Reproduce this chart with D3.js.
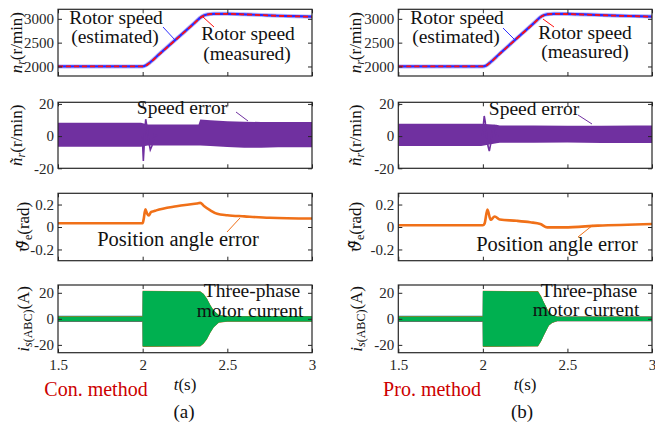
<!DOCTYPE html>
<html>
<head>
<meta charset="utf-8">
<script src="https://cdn.jsdelivr.net/npm/d3@7"></script>
<style>
  body { margin: 0; background: #fff; }
</style>
</head>
<body>
<svg id="chart" width="655" height="435"></svg>
<script>
// ticks
var timeTicks = [1.5, 2, 2.5, 3];
var speedTicks = [2000, 2500, 3000];
var errorTicks = [-20, 0, 20];
var angleTicks = [-0.2, 0, 0.2];
var currentTicks = [-20, 0, 20];

// rotor speed (r/min)
var speedTime = [1.5, 2.0, 2.02, 2.04, 2.1, 2.2, 2.3, 2.35, 2.38, 2.42, 2.5, 2.6, 2.7, 2.8, 2.9, 3.0];
var conSpeedEst = [2000, 2000, 2025, 2075, 2265, 2580, 2895, 3050, 3090, 3105, 3105, 3095, 3080, 3065, 3055, 3045];
var conSpeedMeas = [2000, 2000, 2020, 2070, 2260, 2575, 2890, 3045, 3088, 3103, 3103, 3093, 3078, 3063, 3053, 3043];
var proSpeedEst = [2000, 2000, 2020, 2075, 2270, 2590, 2905, 3060, 3095, 3105, 3102, 3092, 3078, 3066, 3057, 3048];
var proSpeedMeas = [2000, 2000, 2018, 2070, 2265, 2585, 2900, 3055, 3093, 3103, 3100, 3090, 3076, 3064, 3055, 3046];

// speed error band (envelope) + start-up transient
var conErrTime = [1.5, 1.99, 2.03, 2.1, 2.33, 2.34, 2.4, 2.5, 2.6, 2.7, 2.8, 2.9, 3.0];
var conErrUpper = [8.3, 8.3, 7.2, 7.2, 7.2, 10.3, 9.8, 9.2, 8.9, 8.8, 8.8, 8.8, 8.8];
var conErrLower = [-6.6, -6.6, -5.8, -5.8, -5.8, -5.8, -6.2, -6.8, -7.2, -7.2, -7.0, -7.0, -7.0];
var conSpikeTime = [1.995, 2.0, 2.004, 2.008, 2.013, 2.018, 2.025, 2.035, 2.045, 2.055, 2.07, 2.085];
var conSpike = [0, -6, -15.5, -8, 4, 10.5, 6, -3, -8.5, -6, 1, 0];

var proErrTime = [1.5, 1.99, 2.08, 2.1, 2.3, 2.5, 2.7, 2.9, 3.0];
var proErrUpper = [7.7, 7.7, 7.0, 6.6, 6.6, 6.4, 6.4, 6.6, 6.6];
var proErrLower = [-6.2, -6.2, -4.5, -4.1, -4.1, -4.0, -4.3, -4.3, -4.3];
var proSpikeTime = [1.998, 2.003, 2.008, 2.014, 2.022, 2.03, 2.038, 2.046, 2.055, 2.065, 2.08, 2.095];
var proSpike = [0, 7, 12.5, 9, 0, -6, -9.3, -5, 4, 6, 0, 0];

// position angle error (rad)
var conAngleTime = [1.5, 2.0, 2.006, 2.016, 2.026, 2.036, 2.05, 2.065, 2.08, 2.2, 2.32, 2.34, 2.36, 2.4, 2.44, 2.5, 2.6, 2.75, 3.0];
var conAngle = [0.033, 0.033, 0.07, 0.157, 0.12, 0.103, 0.135, 0.14, 0.148, 0.185, 0.21, 0.215, 0.19, 0.148, 0.118, 0.105, 0.095, 0.082, 0.075];
var proAngleTime = [1.5, 2.0, 2.01, 2.027, 2.046, 2.07, 2.1, 2.2, 2.28, 2.34, 2.38, 2.48, 2.68, 3.0];
var proAngle = [0.015, 0.015, 0.03, 0.155, 0.064, 0.094, 0.066, 0.055, 0.042, 0.027, -0.003, -0.003, 0.012, 0.027];

// three-phase current envelopes (A)
var conCurTime = [1.5, 1.999, 2.0, 2.34, 2.36, 2.38, 2.4, 2.42, 2.45, 2.5, 3.0];
var conCurA = [2.4, 2.4, 20.8, 20.3, 18.3, 14.8, 9.8, 5.8, 2.7, 2.1, 2.1];
var conCurB = [2.1, 2.1, 21.6, 21.2, 19.2, 15.6, 10.6, 6.5, 3.0, 2.2, 2.2];
var conCurC = [1.9, 1.9, 21.3, 21.0, 19.0, 15.4, 10.5, 6.4, 2.8, 2.0, 2.0];
var proCurTime = [1.5, 1.999, 2.0, 2.326, 2.345, 2.36, 2.375, 2.39, 2.41, 2.44, 2.5, 3.0];
var proCurA = [2.4, 2.4, 20.8, 20.5, 16.6, 12.6, 8.8, 5.0, 2.9, 1.9, 1.9, 1.9];
var proCurB = [2.1, 2.1, 21.6, 21.3, 17.3, 13.0, 9.2, 5.3, 3.1, 1.8, 1.8, 1.8];
var proCurC = [1.9, 1.9, 21.3, 21.0, 17.0, 12.8, 9.0, 5.1, 3.0, 1.7, 1.7, 1.7];

var serif = "Liberation Serif";
var svg = d3.select("#chart");
var axisColor = "#262626";
var rows = [[9.3, 76], [102.3, 168.3], [193.3, 260.7], [285, 352.7]];
var clipId = 0;

function zipPts(t, v) { return t.map(function (d, i) { return [d, v[i]]; }); }

function makePanel(x0, x1, row, yDomain, yTicks, yFmt, bottom) {
    var x = d3.scaleLinear().domain([1.5, 3]).range([x0, x1]);
    var y = d3.scaleLinear().domain(yDomain).range([row[1], row[0]]);
    var id = "clip" + (clipId++);
    svg.append("clipPath").attr("id", id).append("rect")
        .attr("x", x0).attr("y", row[0]).attr("width", x1 - x0).attr("height", row[1] - row[0]);
    var plot = svg.append("g").attr("clip-path", "url(#" + id + ")");
    var axes = svg.append("g");
    return { x: x, y: y, plot: plot, axes: axes, x0: x0, x1: x1, row: row, yTicks: yTicks, yFmt: yFmt, bottom: bottom };
}

function finishPanel(p) {
    var a = p.axes;
    var left = a.append("g").attr("transform", "translate(" + p.x0 + ",0)")
        .call(d3.axisLeft(p.y).tickValues(p.yTicks).tickFormat(p.yFmt).tickSize(-4).tickPadding(4));
    var right = a.append("g").attr("transform", "translate(" + p.x1 + ",0)")
        .call(d3.axisRight(p.y).tickValues(p.yTicks).tickFormat("").tickSize(-4));
    var bot = a.append("g").attr("transform", "translate(0," + p.row[1] + ")")
        .call(d3.axisBottom(p.x).tickValues(timeTicks)
            .tickFormat(p.bottom ? function (d) { return String(d); } : "")
            .tickSize(-4).tickPadding(7));
    var top = a.append("g").attr("transform", "translate(0," + p.row[0] + ")")
        .call(d3.axisTop(p.x).tickValues(timeTicks).tickFormat("").tickSize(-4));
    [left, right, bot, top].forEach(function (g) {
        g.select(".domain").remove();
        g.attr("color", axisColor).attr("font-size", 15).attr("font-family", serif);
        g.selectAll("text").style("font-family", serif).attr("font-size", 15);
        g.selectAll("line").attr("stroke-width", 1);
    });
    a.append("rect")
        .attr("x", p.x0).attr("y", p.row[0])
        .attr("width", p.x1 - p.x0).attr("height", p.row[1] - p.row[0])
        .attr("fill", "none").attr("stroke", axisColor).attr("stroke-width", 1.2);
}

// centred annotation text
function note(str, cx, y, size, color) {
    svg.append("text").attr("x", cx).attr("y", y)
        .attr("text-anchor", "middle")
        .style("font-family", serif)
        .attr("font-size", size || 19.5)
        .attr("fill", color || "#111")
        .text(str);
}

function leader(x1, y1, x2, y2, color) {
    svg.append("line").attr("x1", x1).attr("y1", y1).attr("x2", x2).attr("y2", y2)
        .attr("stroke", color).attr("stroke-width", 1);
}

function yLabel(parts, x, yc) {
    var t = svg.append("text")
        .attr("transform", "translate(" + x + "," + yc + ") rotate(-90)")
        .style("font-family", serif)
        .attr("text-anchor", "middle").attr("font-size", 17).attr("fill", "#111");
    parts.forEach(function (p) {
        var s = t.append("tspan").text(p.s);
        if (p.i) s.attr("font-style", "italic");
        if (p.f) s.style("font-family", p.f);
        if (p.sub) s.attr("font-size", 12).attr("baseline-shift", "-25%");
    });
}

var fmtInt = function (d) { return String(d); };
var fmtAngle = function (d) { return d === 0 ? "0" : String(d); };

var columns = [
    {
        x0: 58, x1: 312,
        est: conSpeedEst, meas: conSpeedMeas,
        errT: conErrTime, errU: conErrUpper, errL: conErrLower, spT: conSpikeTime, sp: conSpike,
        angT: conAngleTime, ang: conAngle,
        curT: conCurTime, curA: conCurA, curB: conCurB, curC: conCurC,
        labelX: [22, 22, 29, 29]
    },
    {
        x0: 398.3, x1: 652,
        est: proSpeedEst, meas: proSpeedMeas,
        errT: proErrTime, errU: proErrUpper, errL: proErrLower, spT: proSpikeTime, sp: proSpike,
        angT: proAngleTime, ang: proAngle,
        curT: proCurTime, curA: proCurA, curB: proCurB, curC: proCurC,
        labelX: [361, 361, 361, 362]
    }
];

columns.forEach(function (c) {
    // rotor speed
    var p1 = makePanel(c.x0, c.x1, rows[0], [1800, 3200], speedTicks, fmtInt, false);
    var line1 = d3.line().x(function (d) { return p1.x(d[0]); }).y(function (d) { return p1.y(d[1]); }).curve(d3.curveMonotoneX);
    p1.plot.append("path").attr("d", line1(zipPts(speedTime, c.est)))
        .attr("fill", "none").attr("stroke", "#8080ff").attr("stroke-width", 4).attr("opacity", 0.6);
    p1.plot.append("path").attr("d", line1(zipPts(speedTime, c.est)))
        .attr("fill", "none").attr("stroke", "#2a2aff").attr("stroke-width", 2.2);
    p1.plot.append("path").attr("d", line1(zipPts(speedTime, c.meas)))
        .attr("fill", "none").attr("stroke", "#ff1010").attr("stroke-width", 1.8).attr("stroke-dasharray", "5,3");
    finishPanel(p1);

    // speed error
    var p2 = makePanel(c.x0, c.x1, rows[1], [-20, 21], errorTicks, fmtInt, false);
    var band = d3.area().x(function (d) { return p2.x(d[0]); })
        .y0(function (d) { return p2.y(d[2]); }).y1(function (d) { return p2.y(d[1]); });
    p2.plot.append("path")
        .attr("d", band(c.errT.map(function (t, i) { return [t, c.errU[i], c.errL[i]]; })))
        .attr("fill", "#7030a0");
    var line2 = d3.line().x(function (d) { return p2.x(d[0]); }).y(function (d) { return p2.y(d[1]); });
    p2.plot.append("path").attr("d", line2(zipPts(c.spT, c.sp)))
        .attr("fill", "none").attr("stroke", "#7030a0").attr("stroke-width", 1.6);
    finishPanel(p2);

    // position angle error
    var p3 = makePanel(c.x0, c.x1, rows[2], [-0.3, 0.3], angleTicks, fmtAngle, false);
    var line3 = d3.line().x(function (d) { return p3.x(d[0]); }).y(function (d) { return p3.y(d[1]); }).curve(d3.curveMonotoneX);
    p3.plot.append("path").attr("d", line3(zipPts(c.angT, c.ang)))
        .attr("fill", "none").attr("stroke", "#f07018").attr("stroke-width", 2.6);
    finishPanel(p3);

    // three-phase current
    var p4 = makePanel(c.x0, c.x1, rows[3], [-26, 26], currentTicks, fmtInt, true);
    var env = d3.area().x(function (d) { return p4.x(d[0]); })
        .y0(function (d) { return p4.y(-d[1]); }).y1(function (d) { return p4.y(d[1]); });
    [[c.curA, "#0072bd"], [c.curB, "#e2601a"], [c.curC, "#00b050"]].forEach(function (s) {
        p4.plot.append("path").attr("d", env(zipPts(c.curT, s[0]))).attr("fill", s[1]);
    });
    finishPanel(p4);

    // axis labels
    var lx = c.labelX;
    yLabel([{ s: "n", i: true }, { s: "r", i: true, sub: true }, { s: "(r/min)" }], lx[0], (rows[0][0] + rows[0][1]) / 2);
    yLabel([{ s: "\u00f1", i: true }, { s: "r", i: true, sub: true }, { s: "(r/min)" }], lx[1], (rows[1][0] + rows[1][1]) / 2);
    yLabel([{ s: "\u03d1\u0303", i: true, f: "DejaVu Serif" }, { s: "e", sub: true }, { s: "(rad)" }], lx[2], (rows[2][0] + rows[2][1]) / 2);
    yLabel([{ s: "i", i: true }, { s: "s", i: true, sub: true }, { s: "(ABC)", sub: true }, { s: "(A)" }], lx[3], (rows[3][0] + rows[3][1]) / 2);

    var tl = svg.append("text").attr("x", (c.x0 + c.x1) / 2).attr("y", 390)
        .style("font-family", serif)
        .attr("text-anchor", "middle").attr("font-size", 17).attr("fill", "#111");
    tl.append("tspan").attr("font-style", "italic").text("t");
    tl.append("tspan").text("(s)");
});

// left column annotations
note("Rotor speed", 116, 24);
note("(estimated)", 115, 43);
note("Rotor speed", 248, 40);
note("(measured)", 247, 60);
leader(163, 27, 175, 40, "#3030ff");
leader(203, 17, 214, 27, "#ff1010");
note("Speed error", 182, 114);
leader(236, 112, 248, 121, "#7030a0");
note("Position angle error", 178, 246, 20.5);
leader(227, 232, 240, 218, "#f07018");
note("Three-phase", 252, 297);
note("motor current", 250, 317);
note("Con. method", 96, 396, 20, "#cc0000");
note("(a)", 184, 418, 19);

// right column annotations
note("Rotor speed", 457, 24);
note("(estimated)", 456, 43);
note("Rotor speed", 585, 39);
note("(measured)", 585, 58);
leader(503, 28, 515, 40, "#3030ff");
leader(543, 19, 554, 27, "#ff1010");
note("Speed error", 534, 115);
leader(578, 115, 592, 124, "#7030a0");
note("Position angle error", 557, 251, 20.5);
leader(578, 237, 593, 225, "#f07018");
note("Three-phase", 589, 297);
note("motor current", 586, 316);
note("Pro. method", 432, 396, 20, "#cc0000");
note("(b)", 522, 418, 19);
</script>
</body>
</html>
